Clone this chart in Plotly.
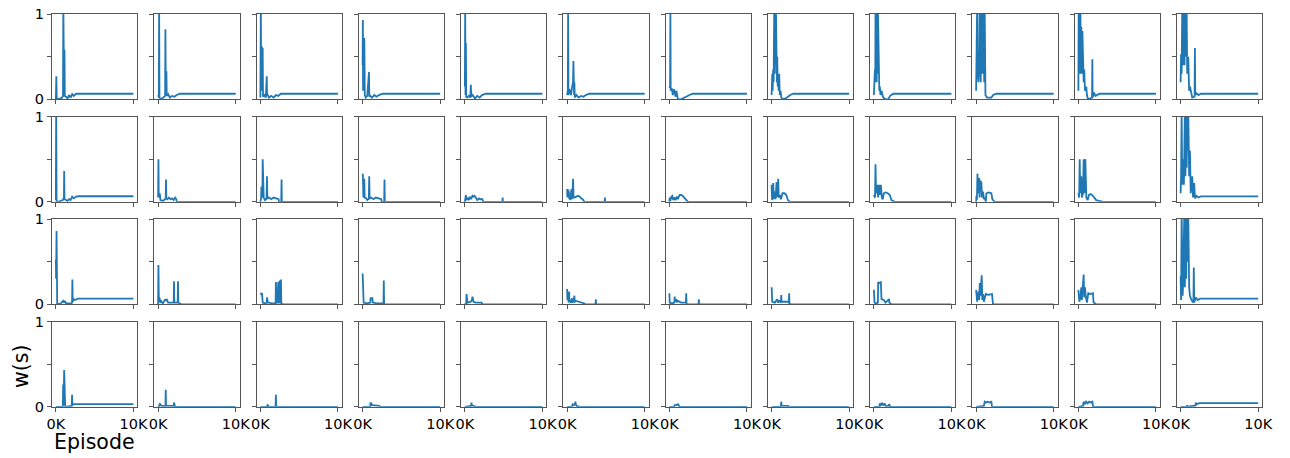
import plotly.graph_objects as go

# ---------------- data (episodes, w(s)) per panel ----------------
EPISODE_TICKS = [0, 10000]
EPISODE_LABELS = ["0K", "10K"]
W_TICKS = [0, 0.5, 1]
W_LABELS = ["0", "", "1"]

ROW1_X = [
    [0, 60, 110, 400, 800, 920, 960, 1020, 1070, 1110, 1150, 1300, 1500, 1700, 1900, 2100, 2300, 2600, 10000],
    [0, 90, 130, 170, 400, 700, 900, 940, 990, 1070, 1110, 1300, 1500, 1800, 2100, 2400, 2800, 10000],
    [0, 60, 110, 200, 260, 300, 340, 500, 700, 820, 860, 900, 1100, 1400, 1700, 2000, 2300, 2650, 10000],
    [0, 30, 60, 100, 180, 220, 280, 400, 600, 820, 860, 900, 1200, 1500, 1800, 2100, 2600, 10000],
    [0, 40, 80, 130, 170, 300, 500, 700, 770, 820, 1000, 1300, 1600, 1900, 2200, 2700, 10000],
    [0, 90, 130, 170, 300, 500, 650, 760, 810, 860, 900, 940, 980, 1200, 1500, 1800, 2100, 2400, 2860, 10000],
    [0, 90, 130, 170, 300, 450, 600, 800, 900, 1100, 1500, 1900, 2300, 2600, 3000, 10000],
    [0, 80, 130, 200, 260, 340, 400, 450, 500, 550, 600, 640, 680, 730, 780, 850, 900, 980, 1050, 1150, 1250, 1500, 1800, 2100, 2400, 2800, 10000],
    [0, 40, 80, 130, 180, 210, 260, 310, 360, 410, 460, 510, 550, 600, 640, 700, 770, 850, 980, 1100, 1200, 1500, 1840, 2100, 2480, 10000],
    [0, 40, 90, 130, 200, 300, 400, 450, 500, 550, 600, 650, 700, 750, 800, 860, 920, 980, 1040, 1100, 1200, 1400, 1960, 2200, 2600, 10000],
    [0, 40, 100, 150, 200, 260, 320, 380, 450, 520, 600, 680, 760, 850, 1020, 1100, 1240, 1760, 1800, 1840, 2000, 2200, 2730, 10000],
    [0, 60, 130, 210, 260, 320, 380, 440, 500, 560, 620, 680, 770, 850, 980, 1100, 1200, 1500, 1800, 1840, 1880, 2050, 2300, 2600, 10000],
]
ROW1_Y = [
    [0, 0.27, 0.01, 0.0, 0.02, 0.04, 1.1, 0.05, 0.03, 0.58, 0.04, 0.03, 0.01, 0.05, 0.02, 0.06, 0.04, 0.065, 0.065],
    [0.05, 0.02, 1.1, 0.02, 0.0, 0.02, 0.04, 0.82, 0.05, 0.33, 0.04, 0.06, 0.02, 0.04, 0.03, 0.05, 0.065, 0.065],
    [0.02, 1.1, 0.1, 0.62, 0.2, 0.6, 0.03, 0.05, 0.02, 0.27, 0.04, 0.06, 0.02, 0.04, 0.02, 0.05, 0.04, 0.065, 0.065],
    [0.4, 0.93, 0.1, 0.4, 0.72, 0.7, 0.05, 0.02, 0.04, 0.32, 0.03, 0.05, 0.02, 0.05, 0.03, 0.05, 0.065, 0.065],
    [0.15, 1.1, 0.05, 0.66, 0.03, 0.02, 0.04, 0.02, 0.17, 0.03, 0.05, 0.01, 0.04, 0.02, 0.05, 0.065, 0.065],
    [0.05, 0.1, 1.1, 0.05, 0.12, 0.05, 0.15, 0.2, 0.45, 0.1, 0.05, 0.2, 0.02, 0.05, 0.02, 0.04, 0.03, 0.05, 0.065, 0.065],
    [0.13, 0.15, 1.1, 0.1, 0.13, 0.05, 0.12, 0.03, 0.1, 0.0, 0.0, 0.02, 0.04, 0.05, 0.065, 0.065],
    [0.05, 0.3, 0.1, 0.35, 0.2, 1.1, 0.3, 1.1, 0.4, 1.1, 0.3, 0.8, 0.2, 0.5, 0.15, 0.3, 0.1, 0.3, 0.05, 0.1, 0.02, 0.0, 0.01, 0.03, 0.05, 0.065, 0.065],
    [0.05, 0.35, 0.1, 0.35, 0.2, 1.1, 0.3, 1.1, 0.2, 1.1, 0.3, 1.1, 0.9, 0.2, 0.5, 0.1, 0.15, 0.05, 0.1, 0.03, 0.02, 0.0, 0.0, 0.04, 0.065, 0.065],
    [0.1, 1.1, 0.1, 1.1, 0.3, 0.2, 0.35, 1.1, 0.3, 1.1, 0.2, 1.1, 0.3, 1.1, 0.5, 1.1, 0.3, 1.1, 0.2, 1.1, 0.05, 0.02, 0.02, 0.05, 0.065, 0.065],
    [0.1, 1.1, 0.35, 1.1, 0.3, 1.1, 0.3, 0.85, 0.3, 0.8, 0.55, 0.2, 0.35, 0.1, 0.15, 0.05, 0.0, 0.02, 0.47, 0.02, 0.08, 0.04, 0.065, 0.065],
    [0.2, 0.53, 0.3, 1.1, 0.4, 1.1, 0.5, 1.1, 0.4, 1.1, 0.5, 1.1, 1.1, 0.3, 0.5, 0.1, 0.15, 0.02, 0.03, 0.6, 0.05, 0.07, 0.05, 0.065, 0.065],
]

ROW2_X = [
    [0, 40, 90, 300, 600, 900, 1040, 1070, 1110, 1300, 1500, 1700, 1900, 2100, 2300, 2600, 2900, 10000],
    [0, 40, 80, 210, 300, 600, 900, 980, 1020, 1060, 1200, 1400, 1600, 1800, 2000, 2200, 2350, 2400, 10000],
    [0, 100, 130, 200, 260, 300, 340, 430, 600, 800, 850, 900, 1100, 1400, 1700, 2000, 2350, 2400, 2690, 2730, 2770, 10000],
    [0, 40, 100, 170, 210, 260, 380, 600, 800, 850, 900, 1100, 1400, 1700, 2000, 2400, 2450, 2780, 2820, 2860, 10000],
    [0, 130, 200, 350, 500, 650, 800, 980, 1100, 1250, 1400, 1600, 1840, 2000, 2260, 2350, 4830, 4870, 4910, 10000],
    [0, 40, 90, 150, 210, 280, 340, 420, 550, 620, 700, 770, 830, 940, 1150, 1400, 1650, 1800, 2000, 2220, 4830, 4870, 4910, 10000],
    [0, 40, 120, 250, 380, 500, 680, 800, 980, 1100, 1320, 1500, 1700, 1960, 2200, 2390, 10000],
    [0, 60, 130, 210, 280, 350, 430, 500, 580, 640, 720, 800, 850, 920, 1070, 1200, 1400, 1650, 1900, 2100, 2350, 10000],
    [0, 150, 210, 280, 430, 550, 680, 750, 900, 1020, 1150, 1280, 1500, 1800, 2050, 2260, 2690, 10000],
    [0, 40, 100, 170, 250, 380, 450, 550, 680, 760, 900, 1000, 1110, 1250, 1320, 1600, 1960, 2100, 2390, 10000],
    [0, 100, 170, 240, 380, 450, 600, 680, 760, 830, 900, 1020, 1200, 1360, 1600, 1880, 2300, 3170, 10000],
    [0, 60, 130, 200, 340, 420, 550, 620, 700, 780, 860, 940, 980, 1100, 1200, 1300, 1500, 1600, 1750, 1850, 2050, 2300, 2600, 10000],
]
ROW2_Y = [
    [0.02, 1.1, 0.01, 0.0, 0.01, 0.02, 0.05, 0.36, 0.03, 0.02, 0.01, 0.03, 0.02, 0.06, 0.04, 0.06, 0.065, 0.065],
    [0.05, 0.5, 0.05, 0.1, 0.02, 0.01, 0.03, 0.05, 0.26, 0.04, 0.03, 0.05, 0.03, 0.04, 0.02, 0.05, 0.03, 0.0, 0.0],
    [0.0, 0.05, 0.18, 0.05, 0.1, 0.5, 0.05, 0.05, 0.02, 0.04, 0.3, 0.04, 0.05, 0.03, 0.05, 0.04, 0.03, 0.0, 0.0, 0.26, 0.0, 0.0],
    [0.33, 0.3, 0.05, 0.2, 0.27, 0.05, 0.05, 0.02, 0.04, 0.3, 0.04, 0.05, 0.03, 0.05, 0.04, 0.03, 0.0, 0.0, 0.26, 0.0, 0.0],
    [0.0, 0.08, 0.02, 0.05, 0.02, 0.06, 0.03, 0.07, 0.06, 0.07, 0.05, 0.02, 0.04, 0.03, 0.03, 0.0, 0.0, 0.05, 0.0, 0.0],
    [0.15, 0.05, 0.15, 0.05, 0.13, 0.03, 0.08, 0.02, 0.15, 0.03, 0.1, 0.27, 0.05, 0.05, 0.06, 0.07, 0.06, 0.04, 0.03, 0.0, 0.0, 0.05, 0.0, 0.0],
    [0.0, 0.05, 0.01, 0.06, 0.07, 0.02, 0.05, 0.02, 0.06, 0.03, 0.08, 0.08, 0.07, 0.04, 0.02, 0.0, 0.0],
    [0.2, 0.02, 0.15, 0.22, 0.03, 0.12, 0.1, 0.03, 0.15, 0.23, 0.05, 0.2, 0.27, 0.05, 0.08, 0.03, 0.1, 0.1, 0.08, 0.02, 0.0, 0.0],
    [0.08, 0.05, 0.44, 0.1, 0.2, 0.05, 0.2, 0.08, 0.2, 0.05, 0.03, 0.1, 0.11, 0.1, 0.08, 0.02, 0.0, 0.0],
    [0.0, 0.07, 0.02, 0.33, 0.1, 0.28, 0.05, 0.25, 0.22, 0.05, 0.12, 0.03, 0.05, 0.0, 0.1, 0.11, 0.1, 0.03, 0.0, 0.0],
    [0.1, 0.05, 0.5, 0.1, 0.3, 0.05, 0.1, 0.5, 0.1, 0.3, 0.5, 0.05, 0.02, 0.08, 0.09, 0.07, 0.02, 0.0, 0.0],
    [0.1, 0.3, 1.1, 0.2, 0.5, 0.2, 1.1, 0.3, 1.1, 0.4, 1.1, 0.6, 1.1, 0.3, 0.6, 0.1, 0.3, 0.05, 0.22, 0.04, 0.07, 0.05, 0.063, 0.063],
]

ROW3_X = [
    [0, 30, 85, 170, 500, 940, 1050, 1150, 1300, 1700, 2000, 2090, 2130, 2170, 2300, 2500, 2800, 10000],
    [0, 40, 90, 170, 260, 380, 600, 940, 1030, 1110, 1280, 1600, 2010, 2050, 2090, 2200, 2520, 2560, 2600, 2800, 2990, 10000],
    [0, 100, 210, 250, 300, 600, 820, 850, 900, 980, 1500, 1960, 2000, 2050, 2130, 2260, 2300, 2350, 2440, 2480, 2520, 2610, 2650, 2700, 2860, 10000],
    [0, 40, 130, 500, 1000, 1020, 1100, 1240, 1320, 1800, 2690, 2730, 2770, 10000],
    [0, 170, 210, 250, 340, 770, 900, 980, 1020, 1110, 1400, 2170, 2260, 10000],
    [0, 40, 85, 200, 260, 300, 380, 500, 640, 700, 860, 940, 980, 1150, 2220, 2300, 3660, 3700, 3740, 10000],
    [0, 40, 300, 640, 680, 750, 900, 1000, 1110, 1500, 2130, 2170, 2210, 2300, 3760, 3800, 3840, 10000],
    [0, 40, 85, 400, 720, 800, 980, 1200, 1240, 1280, 1410, 2130, 2220, 2260, 2300, 2430, 10000],
    [0, 40, 85, 300, 520, 550, 700, 900, 940, 980, 1280, 1500, 1960, 2000, 2260, 10000],
    [0, 60, 130, 200, 340, 400, 470, 550, 640, 720, 800, 900, 1000, 1240, 1500, 1800, 2050, 2180, 10000],
    [0, 60, 130, 250, 380, 450, 600, 680, 760, 860, 940, 1100, 1280, 1500, 1880, 1960, 2300, 10000],
    [0, 60, 130, 200, 260, 350, 470, 550, 640, 720, 800, 880, 980, 1100, 1200, 1400, 1650, 1700, 1750, 1960, 2200, 2500, 10000],
]
ROW3_Y = [
    [0.52, 0.3, 0.86, 0.01, 0.0, 0.04, 0.02, 0.04, 0.01, 0.01, 0.01, 0.02, 0.29, 0.03, 0.06, 0.05, 0.066, 0.066],
    [0.0, 0.46, 0.05, 0.08, 0.02, 0.04, 0.01, 0.06, 0.04, 0.06, 0.02, 0.02, 0.02, 0.27, 0.02, 0.02, 0.02, 0.27, 0.02, 0.01, 0.0, 0.0],
    [0.13, 0.12, 0.13, 0.02, 0.02, 0.01, 0.02, 0.08, 0.05, 0.02, 0.01, 0.01, 0.26, 0.02, 0.02, 0.02, 0.26, 0.02, 0.02, 0.28, 0.02, 0.02, 0.29, 0.01, 0.0, 0.0],
    [0.36, 0.02, 0.02, 0.01, 0.02, 0.08, 0.06, 0.08, 0.02, 0.01, 0.01, 0.28, 0.0, 0.0],
    [0.0, 0.01, 0.12, 0.02, 0.02, 0.03, 0.05, 0.09, 0.04, 0.03, 0.02, 0.02, 0.0, 0.0],
    [0.18, 0.05, 0.1, 0.02, 0.15, 0.03, 0.05, 0.02, 0.07, 0.02, 0.06, 0.1, 0.03, 0.04, 0.01, 0.0, 0.0, 0.06, 0.0, 0.0],
    [0.13, 0.02, 0.01, 0.02, 0.09, 0.03, 0.06, 0.03, 0.04, 0.02, 0.02, 0.13, 0.01, 0.0, 0.0, 0.06, 0.0, 0.0],
    [0.2, 0.05, 0.03, 0.02, 0.06, 0.02, 0.04, 0.02, 0.11, 0.03, 0.03, 0.03, 0.02, 0.13, 0.01, 0.0, 0.0],
    [0.17, 0.1, 0.02, 0.01, 0.02, 0.26, 0.25, 0.26, 0.1, 0.06, 0.05, 0.02, 0.06, 0.02, 0.0, 0.0],
    [0.17, 0.05, 0.03, 0.1, 0.15, 0.05, 0.25, 0.1, 0.3, 0.34, 0.05, 0.12, 0.03, 0.12, 0.11, 0.12, 0.12, 0.0, 0.0],
    [0.17, 0.05, 0.03, 0.08, 0.2, 0.05, 0.3, 0.35, 0.08, 0.2, 0.1, 0.02, 0.13, 0.12, 0.13, 0.02, 0.0, 0.0],
    [0.33, 0.05, 1.1, 0.3, 0.1, 0.3, 1.1, 0.2, 1.1, 0.3, 1.1, 0.5, 1.1, 0.2, 0.1, 0.05, 0.02, 0.43, 0.02, 0.08, 0.05, 0.066, 0.066],
]

ROW4_X = [
    [0, 900, 940, 1000, 1070, 1110, 1200, 2050, 2090, 2130, 2220, 2500, 10000],
    [0, 150, 210, 300, 430, 940, 980, 1020, 1110, 2010, 2050, 2090, 2180, 10000],
    [0, 800, 940, 1100, 1960, 2000, 2040, 2130, 10000],
    [0, 980, 1020, 1100, 1240, 2180, 2300, 10000],
    [0, 800, 850, 900, 1070, 1500, 10000],
    [0, 600, 720, 900, 1030, 1070, 1110, 1240, 1600, 10000],
    [0, 600, 680, 900, 1110, 1320, 10000],
    [0, 1200, 1240, 1280, 1410, 2130, 2200, 10000],
    [0, 700, 770, 900, 1050, 1200, 1410, 1500, 1900, 1960, 2130, 10000],
    [0, 1000, 1110, 1300, 1500, 1700, 1960, 2050, 10000],
    [0, 600, 680, 850, 1000, 1200, 1400, 1600, 1800, 1900, 10000],
    [0, 800, 850, 900, 1500, 1900, 1960, 2050, 2400, 10000],
]
ROW4_Y = [
    [0.0, 0.0, 0.26, 0.02, 0.43, 0.01, 0.0, 0.01, 0.14, 0.02, 0.03, 0.031, 0.031],
    [0.0, 0.01, 0.04, 0.02, 0.01, 0.01, 0.2, 0.01, 0.01, 0.01, 0.05, 0.01, 0.0, 0.0],
    [0.0, 0.0, 0.02, 0.0, 0.0, 0.14, 0.01, 0.0, 0.0],
    [0.0, 0.0, 0.05, 0.03, 0.02, 0.01, 0.0, 0.0],
    [0.0, 0.01, 0.05, 0.02, 0.01, 0.0, 0.0],
    [0.0, 0.0, 0.03, 0.02, 0.04, 0.06, 0.03, 0.01, 0.0, 0.0],
    [0.0, 0.0, 0.02, 0.02, 0.03, 0.0, 0.0],
    [0.0, 0.0, 0.06, 0.02, 0.01, 0.01, 0.0, 0.0],
    [0.0, 0.0, 0.04, 0.02, 0.04, 0.02, 0.04, 0.01, 0.01, 0.03, 0.0, 0.0],
    [0.0, 0.01, 0.06, 0.05, 0.06, 0.05, 0.06, 0.0, 0.0],
    [0.0, 0.01, 0.06, 0.03, 0.06, 0.04, 0.06, 0.05, 0.06, 0.0, 0.0],
    [0.0, 0.0, 0.02, 0.0, 0.01, 0.01, 0.05, 0.03, 0.043, 0.043],
]

ROWS_X = [ROW1_X, ROW2_X, ROW3_X, ROW4_X]
ROWS_Y = [ROW1_Y, ROW2_Y, ROW3_Y, ROW4_Y]

# ---------------- layout geometry (page pixels) ----------------
W, H = 1290, 458
NR, NC = 4, 12
LEFT0, PITCH_X, PW = 52.0, 102.25, 85.3
TOP0, PITCH_Y, PH = 14.0, 102.5, 85.3
LINE_COLOR = "#1f77b4"
SPINE = "#555555"
FONT = "DejaVu Sans"
TICK_SIZE = 14.5


def fx(px):
    return px / W


def fy(py):
    return 1 - py / H


fig = go.Figure()
layout_axes = {}
for r in range(NR):
    for c in range(NC):
        k = r * NC + c + 1
        sfx = "" if k == 1 else str(k)
        fig.add_trace(go.Scatter(
            x=ROWS_X[r][c], y=ROWS_Y[r][c], mode="lines",
            line=dict(color=LINE_COLOR, width=1.8),
            xaxis="x" + sfx, yaxis="y" + sfx, showlegend=False,
            hoverinfo="skip",
        ))
        left = LEFT0 + c * PITCH_X
        top = TOP0 + r * PITCH_Y
        layout_axes["xaxis" + sfx] = dict(
            domain=[fx(left), fx(left + PW)],
            anchor="y" + sfx,
            range=[-500, 10500],
            automargin=False,
            showgrid=False, zeroline=False,
            showline=True, mirror=True, linecolor=SPINE, linewidth=1,
            ticks="outside", ticklen=4, tickwidth=1, tickcolor=SPINE,
            tickvals=EPISODE_TICKS, ticktext=EPISODE_LABELS,
            showticklabels=(r == NR - 1),
            ticklabeloverflow="allow",
            tickfont=dict(family=FONT, size=TICK_SIZE, color="#000000"),
        )
        layout_axes["yaxis" + sfx] = dict(
            domain=[fy(top + PH), fy(top)],
            anchor="x" + sfx,
            range=[0, 1],
            automargin=False,
            showgrid=False, zeroline=False,
            showline=True, mirror=True, linecolor=SPINE, linewidth=1,
            ticks="outside", ticklen=4, tickwidth=1, tickcolor=SPINE,
            tickvals=W_TICKS, ticktext=W_LABELS,
            showticklabels=(c == 0),
            ticklabeloverflow="allow",
            tickfont=dict(family=FONT, size=TICK_SIZE, color="#000000"),
        )

fig.update_layout(
    width=W, height=H,
    margin=dict(l=0, r=0, t=0, b=0, autoexpand=False),
    paper_bgcolor="white", plot_bgcolor="white",
    font=dict(family=FONT, color="#000000"),
    hovermode=False,
    **layout_axes,
    annotations=[
        dict(text="Episode", x=fx(94), y=fy(442), xref="paper", yref="paper",
             showarrow=False, xanchor="center", yanchor="middle",
             font=dict(family=FONT, size=20.5, color="#000000")),
        dict(text="w(s)", x=fx(21), y=fy(367), xref="paper", yref="paper",
             showarrow=False, xanchor="center", yanchor="middle", textangle=-90,
             font=dict(family=FONT, size=20.5, color="#000000")),
    ],
)

fig.write_html(
    "out.html",
    config={"displayModeBar": False},
    post_script="document.body.style.margin='0';document.body.style.overflow='hidden';",
)
